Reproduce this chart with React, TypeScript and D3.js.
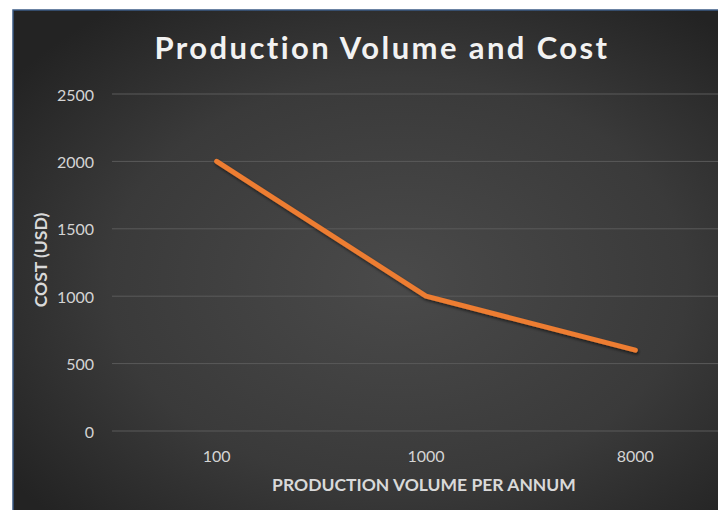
import React from "react";
import * as d3 from "d3";

const categories: string[] = ["100", "1000", "8000"];
const costValues: number[] = [2000, 1000, 600];
const yTicks: number[] = [0, 500, 1000, 1500, 2000, 2500];

const W = 718;
const H = 510;
const FONT = "Lato, 'Open Sans', sans-serif";

export default function App() {
  const x = d3.scaleBand<string>().domain(categories).range([112, 740]).padding(0);
  const y = d3.scaleLinear().domain([0, 2500]).range([431, 94]);
  const cx = (c: string) => (x(c) as number) + x.bandwidth() / 2;
  const line = d3
    .line<number>()
    .x((_, i) => cx(categories[i]))
    .y((d) => y(d));

  return (
    <svg
      width={W}
      height={H}
      style={{ position: "absolute", left: 0, top: 0, display: "block" }}
    >
      <defs>
        <radialGradient id="bg" cx="52%" cy="52%" r="65%">
          <stop offset="0%" stopColor="#4a4a4a" />
          <stop offset="60%" stopColor="#3a3a3a" />
          <stop offset="100%" stopColor="#232323" />
        </radialGradient>
        <filter id="shadow" x="-10%" y="-10%" width="120%" height="130%">
          <feDropShadow dx="1" dy="2" stdDeviation="1.5" floodColor="#000" floodOpacity="0.55" />
        </filter>
      </defs>
      <rect x={0} y={0} width={W} height={H} fill="#ffffff" />
      <rect x={13} y={10} width={740} height={520} fill="url(#bg)" stroke="#3b5b85" strokeWidth={1.5} />

      <text
        x={382}
        y={59}
        textAnchor="middle"
        fill="#f2f2f2"
        fontFamily={FONT}
        fontWeight={700}
        fontSize={31}
        letterSpacing={2.4}
      >
        Production Volume and Cost
      </text>

      {yTicks.map((t) => (
        <g key={t}>
          <line x1={112} x2={740} y1={y(t)} y2={y(t)} stroke="#5a5a5a" strokeWidth={1} />
          <text
            x={94}
            y={y(t)}
            textAnchor="end"
            dominantBaseline="central"
            fill="#d4d4d4"
            fontFamily={FONT}
            fontSize={16}
          >
            {t}
          </text>
        </g>
      ))}

      {categories.map((c) => (
        <text
          key={c}
          x={cx(c)}
          y={455}
          textAnchor="middle"
          dominantBaseline="central"
          fill="#d4d4d4"
          fontFamily={FONT}
          fontSize={16}
        >
          {c}
        </text>
      ))}

      <text
        x={424}
        y={484}
        textAnchor="middle"
        dominantBaseline="central"
        fill="#d9d9d9"
        fontFamily={FONT}
        fontWeight={700}
        fontSize={17.5}
      >
        PRODUCTION VOLUME PER ANNUM
      </text>

      <text
        transform={`translate(40,260) rotate(-90)`}
        textAnchor="middle"
        dominantBaseline="central"
        fill="#d9d9d9"
        fontFamily={FONT}
        fontWeight={700}
        fontSize={17.5}
      >
        COST (USD)
      </text>

      <path
        d={line(costValues) as string}
        fill="none"
        stroke="#ED7D31"
        strokeWidth={5}
        strokeLinecap="round"
        strokeLinejoin="round"
        filter="url(#shadow)"
      />
    </svg>
  );
}
